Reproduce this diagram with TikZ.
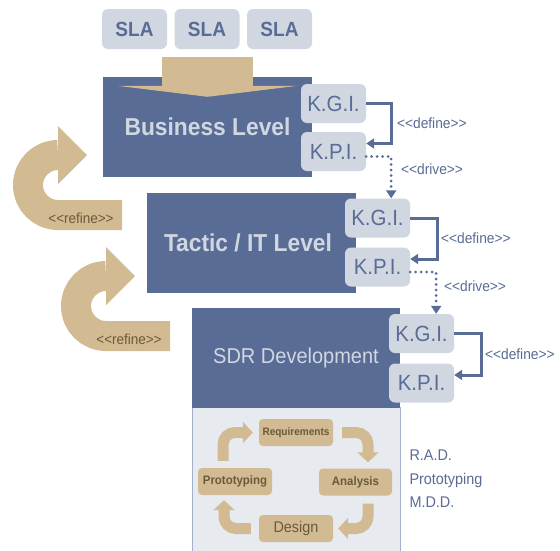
\documentclass[tikz,border=0pt]{standalone}
\usepackage{fontspec}
\setmainfont[FakeStretch=0.93]{Liberation Sans}
\usepackage{xcolor}
\definecolor{mblue}{HTML}{596C96}
\definecolor{mlight}{HTML}{D1D7E1}
\definecolor{mbeige}{HTML}{D2BA93}
\definecolor{mbrown}{HTML}{6B5A38}
\definecolor{mpale}{HTML}{E7EBF0}
\definecolor{medge}{HTML}{A3B2CB}
\usepackage{tikz}
\usetikzlibrary{arrows.meta}
\newcommand{\stereo}[1]{<{}<#1>{}>}

\begin{document}
\begin{tikzpicture}[x=1pt, y=-1pt,
        tier/.style={fill=mblue, text=mlight, minimum width=209pt, minimum height=100pt, inner sep=0pt},
        sla/.style={fill=mlight, text=mblue, rounded corners=6pt, minimum width=65pt, minimum height=40pt, font=\fontsize{20.5}{20.5}\selectfont\bfseries},
        ind/.style={fill=mlight, text=mblue, rounded corners=6pt, minimum width=65pt, minimum height=39pt, inner sep=0pt, font=\fontsize{22}{22}\selectfont},
        phase/.style={fill=mbeige, text=mbrown, rounded corners=4pt, minimum width=74pt, minimum height=27pt, inner sep=0pt},
        lbl/.style={text=mblue, font=\fontsize{14.8}{14.8}\selectfont, anchor=west},
        define/.style={mblue, line width=3pt, -{Triangle[length=8pt, width=10pt]}},
        drive/.style={mblue, line width=3pt, line cap=round, dash pattern=on 0pt off 5.5pt, -{Triangle[length=8pt, width=10pt]}},
        cyc/.style={mbeige, line width=11pt, rounded corners=12pt, -{Triangle[length=10pt, width=21pt]}}]
    \useasboundingbox[fill=white] (0,0) rectangle (560,550);

    \node[sla] (sla1) at (134.5,29) {SLA};
    \node[sla] (sla2) at (207,29) {SLA};
    \node[sla] (sla3) at (279.5,29) {SLA};

    \node[tier, font=\fontsize{24.5}{24.5}\selectfont\bfseries] (business) at (207.5,127) {Business Level};
    \node[tier, font=\fontsize{24.5}{24.5}\selectfont\bfseries] (tactic) at (251,242.5) {\hspace*{-6pt}Tactic / IT Level};
    \node[draw=medge, fill=mpale, line width=1.2pt, minimum width=208pt, minimum height=145pt, anchor=north west] (body) at (192,407) {};
    \node[tier, minimum width=208pt, font=\fontsize{21.5}{21.5}\selectfont] (sdr) at (296,357.5) {SDR Development};

    \fill[mbeige] ([xshift=-46pt, yshift=20pt]business.north) rectangle ([xshift=45pt, yshift=-9pt]business.north);
    \fill[mbeige] ([xshift=-90pt, yshift=-9pt]business.north) -- ([xshift=90pt, yshift=-9pt]business.north) -- ([yshift=-20pt]business.north) -- cycle;

    \node[ind] (kgi1) at (333.5,103.5) {K.G.I.};
    \node[ind] (kpi1) at (333.5,151.5) {K.P.I.};
    \node[ind] (kgi2) at (377.5,218) {K.G.I.};
    \node[ind] (kpi2) at (377.5,267) {K.P.I.};
    \node[ind] (kgi3) at (421.5,333.5) {K.G.I.};
    \node[ind] (kpi3) at (421.5,383) {K.P.I.};

    \draw[define] (kgi1.east) -- ++(25,0) |- ([yshift=8pt]kpi1.east) node[lbl, pos=0.25, xshift=1pt] {\stereo{define}};
    \draw[define] (kgi2.east) -- ++(27,0) |- ([yshift=8pt]kpi2.east) node[lbl, pos=0.25, xshift=-1pt] {\stereo{define}};
    \draw[define] (kgi3.east) -- ++(27,0) |- ([yshift=8pt]kpi3.east) node[lbl, pos=0.25, xshift=-1pt] {\stereo{define}};

    \draw[drive] ([yshift=-5pt]kpi1.east) -- ++(25,0) coordinate (d1) -- (d1 |- kgi2.north) node[lbl, pos=0.3, xshift=5pt] {\stereo{drive}};
    \draw[drive] ([yshift=-5pt]kpi2.east) -- ++(26,0) coordinate (d2) -- (d2 |- kgi3.north) node[lbl, pos=0.35, xshift=3pt] {\stereo{drive}};

    \foreach \dx/\dy in {0/0, 48/121} {
        \begin{scope}[shift={(\dx,\dy)}]
            \draw[mbeige, line width=30pt] (122,215) -- (58,215) arc[start angle=90, end angle=270, radius=30];
            \fill[mbeige] (58,126) -- (87,155) -- (58,184) -- cycle;
            \node[text=mbrown, font=\fontsize{14.5}{14.5}\selectfont] (refine\dx) at (81,218) {\stereo{refine}};
        \end{scope}
    }

    \node[phase, font=\fontsize{10.8}{10.8}\selectfont\bfseries] (req) at (296,432.5) {Requirements};
    \node[phase, minimum width=73pt, font=\fontsize{12.3}{12.3}\selectfont\bfseries] (ana) at (355.5,482) {Analysis};
    \node[phase, font=\fontsize{12.3}{12.3}\selectfont\bfseries] (proto) at (235,481.5) {Prototyping};
    \node[phase, font=\fontsize{15.5}{15.5}\selectfont] (design) at (296,528.5) {Design};

    \draw[cyc, shorten <=7pt, shorten >=6pt] ([xshift=-12pt]proto.north) |- (req.west);
    \draw[cyc, shorten <=9pt, shorten >=6pt] (req.east) -| ([xshift=12.5pt]ana.north);
    \draw[cyc, shorten <=8pt, shorten >=5pt] ([xshift=12.5pt]ana.south) |- (design.east);
    \draw[cyc, shorten <=8pt, shorten >=5pt] (design.west) -| ([xshift=-11pt]proto.south);

    \node[anchor=west, align=left, text=mblue, font=\fontsize{15.5}{23.5}\selectfont] (methods) at (406,479) {R.A.D.\\Prototyping\\M.D.D.};
\end{tikzpicture}
\end{document}
